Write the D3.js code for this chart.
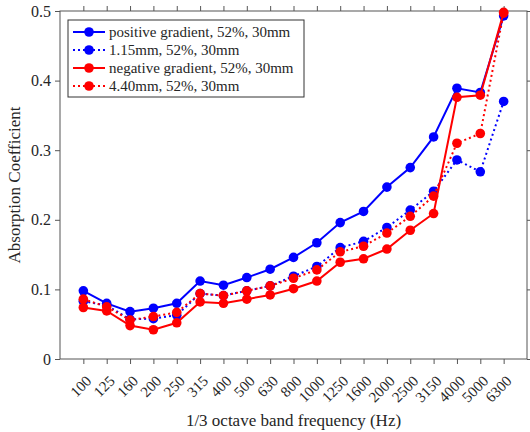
<html>
<head>
  <script src="https://d3js.org/d3.v7.min.js"></script>
  <style>
  body{ margin:0; background:#fff; }
  svg{ display:block; }
  text{ font-family:"Liberation Serif","Times New Roman",serif; fill:#262626; }
  </style>
</head>
<body>
  <script type="text/javascript">
    // 1/3 octave bands
    var bands = ["100","125","160","200","250","315","400","500","630","800","1000","1250","1600","2000","2500","3150","4000","5000","6300"];
    var posGrad = [0.098,0.080,0.068,0.073,0.080,0.112,0.106,0.117,0.129,0.146,0.167,0.196,0.212,0.247,0.275,0.319,0.389,0.383,0.493];
    var mm115   = [0.083,0.077,0.057,0.058,0.063,0.094,0.091,0.098,0.105,0.119,0.133,0.160,0.169,0.189,0.214,0.241,0.286,0.269,0.370];
    var negGrad = [0.074,0.069,0.048,0.042,0.052,0.082,0.080,0.086,0.092,0.101,0.112,0.139,0.144,0.158,0.185,0.209,0.376,0.379,0.498];
    var mm440   = [0.086,0.075,0.056,0.061,0.067,0.094,0.091,0.098,0.105,0.116,0.128,0.154,0.162,0.181,0.205,0.234,0.310,0.324,0.497];
    var yTicks  = [0,0.1,0.2,0.3,0.4,0.5];

    var series = [
      {name:"positive gradient, 52%, 30mm", values:posGrad, color:"#0000ff", dash:null},
      {name:"1.15mm, 52%, 30mm", values:mm115, color:"#0000ff", dash:"2,3"},
      {name:"negative gradient, 52%, 30mm", values:negGrad, color:"#ff0000", dash:null},
      {name:"4.40mm, 52%, 30mm", values:mm440, color:"#ff0000", dash:"2,3"}
    ];

    var width = 530, height = 432;
    var pL = 60, pR = 527, pT = 11, pB = 359;
    var axisColor = "#555";

    var svg = d3.select("body").append("svg")
        .attr("width", width)
        .attr("height", height);

    var x = d3.scaleLinear().domain([0, bands.length + 1]).range([pL, pR]);
    var y = d3.scaleLinear().domain([0, 0.5]).range([pB, pT]);

    // frame
    svg.append("rect")
       .attr("x", pL).attr("y", pT)
       .attr("width", pR - pL).attr("height", pB - pT)
       .attr("fill", "none").attr("stroke", axisColor).attr("stroke-width", 1);

    var idx = d3.range(1, bands.length + 1);

    // x ticks, bottom and top, outward
    var xAxisB = d3.axisBottom(x).tickValues(idx).tickSize(5).tickFormat("");
    var xAxisT = d3.axisTop(x).tickValues(idx).tickSize(5).tickFormat("");
    svg.append("g").attr("transform", "translate(0," + pB + ")").call(xAxisB);
    svg.append("g").attr("transform", "translate(0," + pT + ")").call(xAxisT);

    // y ticks, left and right
    var yAxisL = d3.axisLeft(y).tickValues(yTicks).tickSize(5)
        .tickFormat(function(d){ return d === 0 ? "0" : d3.format(".1f")(d); });
    var yAxisR = d3.axisRight(y).tickValues(yTicks).tickSize(5).tickFormat("");
    var gl = svg.append("g").attr("transform", "translate(" + pL + ",0)").call(yAxisL);
    svg.append("g").attr("transform", "translate(" + pR + ",0)").call(yAxisR);

    svg.selectAll(".domain").remove();
    svg.selectAll(".tick line").attr("stroke", axisColor);
    gl.selectAll("text")
      .style("font-size", "16px")
      .style("font-family", "'Liberation Serif', serif")
      .attr("fill", "#262626")
      .attr("x", -9);

    // rotated band labels
    svg.append("g").selectAll("text")
       .data(bands)
       .enter()
       .append("text")
       .attr("text-anchor", "end")
       .attr("transform", function(d, i){
         return "translate(" + (x(i + 1) + 9) + "," + (pB + 23) + ") rotate(-45)";
       })
       .style("font-size", "15px")
       .text(function(d){ return d; });

    // lines and markers
    var line = d3.line()
        .x(function(d, i){ return x(i + 1); })
        .y(function(d){ return y(d); });

    series.forEach(function(s){
      svg.append("path")
         .datum(s.values)
         .attr("d", line)
         .attr("fill", "none")
         .attr("stroke", s.color)
         .attr("stroke-width", 2)
         .attr("stroke-dasharray", s.dash);
      svg.append("g").selectAll("circle")
         .data(s.values)
         .enter()
         .append("circle")
         .attr("cx", function(d, i){ return x(i + 1); })
         .attr("cy", function(d){ return y(d); })
         .attr("r", 4.8)
         .attr("fill", s.color);
    });

    // axis titles
    svg.append("text")
       .attr("x", (pL + pR) / 2)
       .attr("y", 426)
       .attr("text-anchor", "middle")
       .style("font-size", "17px")
       .text("1/3 octave band frequency (Hz)");
    svg.append("text")
       .attr("transform", "translate(20," + ((pT + pB) / 2) + ") rotate(-90)")
       .attr("text-anchor", "middle")
       .style("font-size", "17px")
       .text("Absorption Coefficient");

    // legend
    var legX = 68, legY = 20, legW = 236, legH = 77, rowH = 18;
    var leg = svg.append("g");
    leg.append("rect")
       .attr("x", legX).attr("y", legY)
       .attr("width", legW).attr("height", legH)
       .attr("fill", "#fff").attr("stroke", "#333").attr("stroke-width", 1);
    series.forEach(function(s, i){
      var cy = legY + 12 + i * rowH;
      leg.append("line")
         .attr("x1", legX + 5).attr("x2", legX + 37)
         .attr("y1", cy).attr("y2", cy)
         .attr("stroke", s.color).attr("stroke-width", 2)
         .attr("stroke-dasharray", s.dash);
      leg.append("circle")
         .attr("cx", legX + 21).attr("cy", cy).attr("r", 4.8)
         .attr("fill", s.color);
      leg.append("text")
         .attr("x", legX + 41).attr("y", cy + 5)
         .style("font-size", "15px")
         .text(s.name);
    });
  </script>
</body>
</html>
